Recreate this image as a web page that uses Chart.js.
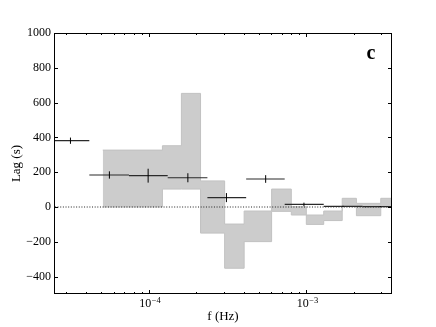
<!DOCTYPE html>
<html><head><meta charset="utf-8">
<script src="https://cdn.jsdelivr.net/npm/chart.js@4.4.1/dist/chart.umd.min.js"></script>
<style>html,body{margin:0;padding:0;background:#fff;overflow:hidden;}</style>
</head><body>
<canvas id="c" width="436" height="327"></canvas>
<script>
// ---- data ----
const binCenters = [3.18e-5, 5.62e-5, 9.9e-5, 1.77e-4, 3.11e-4, 5.52e-4, 9.66e-4, 1.71e-3, 2.95e-3];
const binLow     = [2.41e-5, 4.19e-5, 7.48e-5, 1.318e-4, 2.355e-4, 4.15e-4, 7.29e-4, 1.29e-3, 2.275e-3];
const binHigh    = [4.19e-5, 7.48e-5, 1.318e-4, 2.355e-4, 4.15e-4, 7.29e-4, 1.29e-3, 2.275e-3, 4.0e-3];
const lagValues  = [381, 184, 180, 168, 54, 161, 15, 4, 2];
const lagErrors  = [18, 21, 40, 26, 26, 22, 10, 3, 3];

const shadeEdges  = [5.1e-5, 1.22e-4, 1.61e-4, 2.13e-4, 3.03e-4, 4.03e-4, 6.02e-4, 8.03e-4, 1.0e-3, 1.29e-3, 1.69e-3, 2.08e-3, 2.97e-3, 4.0e-3];
const shadeTop    = [327, 352, 653, 150, -98, -23, 103, 2, -46, -23, 50, 21, 50];
const shadeBottom = [0, 103, 103, -150, -352, -199, -25, -46, -100, -78, 2, -50, 2];

const xMajorTicks  = [1e-4, 1e-3];
const xMajorBase   = ['10', '10'];
const xMajorExp    = ['\u22124', '\u22123'];
const xMinorTicks  = [3e-5, 4e-5, 5e-5, 6e-5, 7e-5, 8e-5, 9e-5, 2e-4, 3e-4, 4e-4, 5e-4, 6e-4, 7e-4, 8e-4, 9e-4, 2e-3, 3e-3];
const yTicks = [-400, -200, 0, 200, 400, 600, 800, 1000];
const panelLabel = 'c';

// ---- build datasets ----
function stepPoints(vals) {
  const pts = vals.map((v, i) => ({x: shadeEdges[i], y: v}));
  pts.push({x: shadeEdges[shadeEdges.length - 1], y: vals[vals.length - 1]});
  return pts;
}
const datasets = [];
datasets.push({data: stepPoints(shadeTop), stepped: true, fill: '+1', backgroundColor: '#cccccc',
  borderColor: '#c2c2c2', borderWidth: 1, pointRadius: 0, order: 10});
datasets.push({data: stepPoints(shadeBottom), stepped: true, fill: false,
  borderColor: '#c2c2c2', borderWidth: 1, pointRadius: 0, order: 9});
datasets.push({data: [{x: 1e-5, y: 0}, {x: 1e-2, y: 0}], borderColor: '#222', borderWidth: 1,
  borderDash: [1, 1.65], pointRadius: 0, fill: false, order: 5});
lagValues.forEach((v, i) => {
  datasets.push({data: [{x: binLow[i], y: v}, {x: binHigh[i], y: v}], borderColor: '#2a2a2a',
    borderWidth: 1.2, pointRadius: 0, fill: false, order: 2});
  datasets.push({data: [{x: binCenters[i], y: v - lagErrors[i]}, {x: binCenters[i], y: v + lagErrors[i]}],
    borderColor: '#000', borderWidth: 1, pointRadius: 0, fill: false, order: 1});
});

const serif = '"Liberation Serif", "DejaVu Serif", serif';

const frame = {
  id: 'frame',
  afterDatasetsDraw(chart) {
    const {ctx, chartArea: a, scales: {x, y}} = chart;
    ctx.save();
    ctx.strokeStyle = '#000';
    ctx.lineWidth = 1;
    ctx.beginPath();
    const vx = (v, len) => {
      const p = Math.round(x.getPixelForValue(v)) + 0.5;
      ctx.moveTo(p, a.bottom); ctx.lineTo(p, a.bottom - len);
      ctx.moveTo(p, a.top); ctx.lineTo(p, a.top + len);
    };
    xMajorTicks.forEach(v => vx(v, 4));
    xMinorTicks.forEach(v => vx(v, 2));
    yTicks.forEach(v => {
      const p = Math.round(y.getPixelForValue(v)) + 0.5;
      ctx.moveTo(a.left, p); ctx.lineTo(a.left + 4, p);
      ctx.moveTo(a.right, p); ctx.lineTo(a.right - 4, p);
    });
    ctx.stroke();
    ctx.strokeRect(Math.round(a.left) + 0.5, Math.round(a.top) + 0.5,
      Math.round(a.right - a.left) - 1, Math.round(a.bottom - a.top) - 1);
    ctx.fillStyle = '#000';
    // x tick labels with superscript exponents
    ctx.textBaseline = 'alphabetic';
    xMajorTicks.forEach((v, i) => {
      const p = x.getPixelForValue(v);
      ctx.font = '12px ' + serif;
      const wb = ctx.measureText(xMajorBase[i]).width;
      ctx.font = '8.5px ' + serif;
      const we = ctx.measureText(xMajorExp[i]).width;
      const start = p - (wb + we) / 2 + 1;
      ctx.textAlign = 'left';
      ctx.font = '12px ' + serif;
      ctx.fillText(xMajorBase[i], start, a.bottom + 13);
      ctx.font = '8.5px ' + serif;
      ctx.fillText(xMajorExp[i], start + wb + 0.5, a.bottom + 8.5);
    });
    ctx.font = 'bold 20px ' + serif;
    ctx.textAlign = 'center';
    ctx.fillText(panelLabel, a.right - 21, a.top + 25.5);
    ctx.restore();
  }
};

new Chart(document.getElementById('c'), {
  type: 'line',
  data: {datasets},
  options: {
    responsive: false,
    devicePixelRatio: 1,
    animation: false,
    events: [],
    layout: {padding: {top: 33, right: 44, left: 0, bottom: 0}},
    plugins: {legend: {display: false}, tooltip: {enabled: false}},
    scales: {
      x: {
        type: 'logarithmic', min: 2.5e-5, max: 3.5e-3,
        grid: {display: false, drawTicks: false}, border: {display: false},
        afterBuildTicks: s => { s.ticks = xMajorTicks.map(v => ({value: v})); },
        afterFit: s => { s.height = 33; },
        ticks: {autoSkip: false, maxRotation: 0, padding: 4, color: '#000',
          font: {family: serif, size: 12}, callback: () => ''},
        title: {display: true, text: 'f (Hz)', color: '#000', font: {family: serif, size: 13},
          padding: {top: 0, bottom: 3}}
      },
      y: {
        type: 'linear', min: -500, max: 1000,
        grid: {display: false, drawTicks: false}, border: {display: false},
        afterBuildTicks: s => { s.ticks = yTicks.map(v => ({value: v})); },
        afterFit: s => { s.width = 54; },
        ticks: {padding: 3, color: '#000', font: {family: serif, size: 12},
          callback: v => v < 0 ? '\u2212' + Math.abs(v) : String(v)},
        title: {display: true, text: 'Lag (s)', color: '#000', font: {family: serif, size: 13},
          padding: {top: 9, bottom: 0}}
      }
    }
  },
  plugins: [frame]
});
</script>
</body></html>
